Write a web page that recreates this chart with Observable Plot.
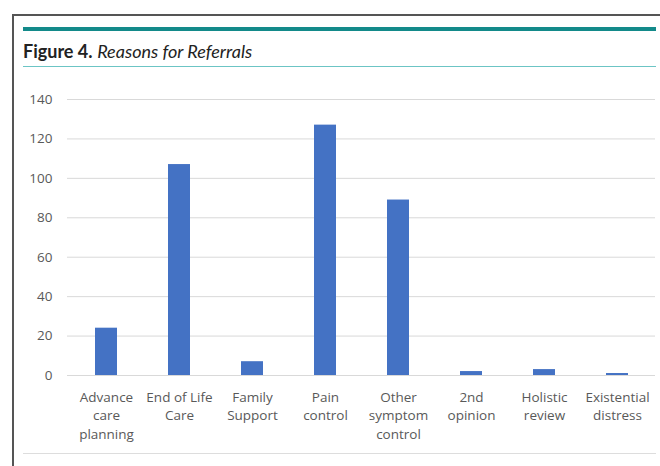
<!DOCTYPE html>
<html><head><meta charset="utf-8">
<script src="https://cdn.jsdelivr.net/npm/d3@7"></script>
<script src="https://cdn.jsdelivr.net/npm/@observablehq/plot@0.6"></script>
<style>
body{margin:0;background:#fff;}
#wrap{position:relative;width:660px;height:466px;overflow:hidden;font-family:Lato,"Open Sans",sans-serif;}
.ln{position:absolute;}
#title{position:absolute;left:23px;top:40px;font-size:18px;color:#222;white-space:nowrap;}
#title b{font-weight:700;}
#title i{font-style:italic;}
#chart{position:absolute;left:0;top:80px;}
</style></head>
<body>
<div id="wrap">
  <div class="ln" style="left:12px;top:14px;width:660px;height:1.5px;background:#555"></div>
  <div class="ln" style="left:12px;top:14px;width:1.5px;height:460px;background:#555"></div>
  <div class="ln" style="left:23px;top:27px;width:633px;height:4px;background:#138a8a"></div>
  <div id="title"><b>Figure 4.</b> <i>Reasons for Referrals</i></div>
  <div class="ln" style="left:23px;top:66px;width:633px;height:1px;background:#6cc5c5"></div>
  <div class="ln" style="left:23px;top:453px;width:633px;height:1px;background:#ddd"></div>
  <div id="chart"></div>
</div>
<script>
const categories = ["Advance\ncare\nplanning","End of Life\nCare","Family\nSupport","Pain\ncontrol","Other\nsymptom\ncontrol","2nd\nopinion","Holistic\nreview","Existential\ndistress"];
const values = [24,107,7,127,89,2,3,1];
const yTicks = [0,20,40,60,80,100,120,140];

const data = categories.map((c,i)=>({cat:c, v:values[i]}));

const chart = Plot.plot({
  width:660, height:372,
  marginLeft:67, marginRight:5, marginTop:19, marginBottom:77,
  style:{fontFamily:"'Open Sans',sans-serif", color:"#595959", background:"transparent"},
  x:{domain:categories, paddingInner:0.7, paddingOuter:0.35, label:null},
  y:{domain:[0,140], label:null},
  marks:[
    Plot.gridY(yTicks,{stroke:"#d9d9d9", strokeOpacity:1, strokeWidth:1}),
    Plot.axisY(yTicks,{tickSize:0, tickPadding:15, fontSize:13.5, fill:"#595959", label:null}),
    Plot.barY(data,{x:"cat", y:"v", fill:"#4472c4"}),
    Plot.axisX({tickSize:0, tickPadding:13, fontSize:13.5, fill:"#595959", lineHeight:1.37, label:null})
  ]
});
document.getElementById("chart").appendChild(chart);
</script>
</body></html>
